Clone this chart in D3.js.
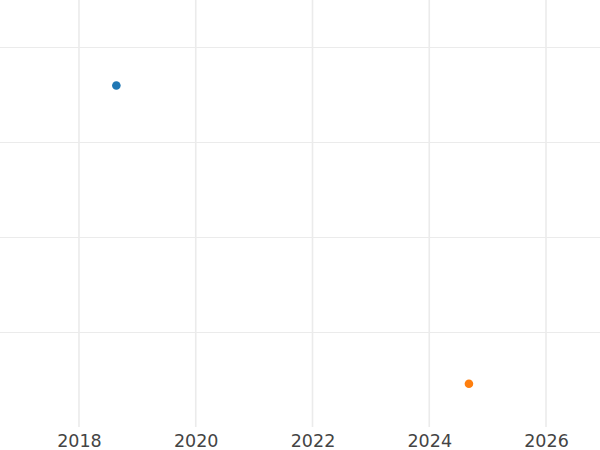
<!DOCTYPE html>
<html><head><meta charset="utf-8">
<script src="https://cdn.jsdelivr.net/npm/d3@7"></script>
<style>body{margin:0;background:#fff}svg{display:block}</style>
</head><body>
<script>
const seriesNames = ["A", "B"];
const xValues = [2018.64, 2024.68];
const yValues = [3.6, 0.46];
const colors = ["#1f77b4", "#ff7f0e"];
const xTicks = [2018, 2020, 2022, 2024, 2026];
const yTicks = [1, 2, 3, 4];

const W = 600, H = 450;
const svg = d3.select("body").append("svg").attr("width", W).attr("height", H);
const x = d3.scaleLinear().domain([2016.647, 2026.925]).range([0, W]);
const y = d3.scaleLinear().domain([0, 4.5]).range([427.5, 0]);

svg.append("g").selectAll("line").data(yTicks).join("line")
  .attr("x1", 0).attr("x2", W)
  .attr("y1", d => Math.floor(y(d)) + 0.5).attr("y2", d => Math.floor(y(d)) + 0.5)
  .attr("stroke", "#ebebeb").attr("stroke-width", 1);

svg.append("g").selectAll("line").data(xTicks).join("line")
  .attr("x1", d => x(d)).attr("x2", d => x(d))
  .attr("y1", 0).attr("y2", 427)
  .attr("stroke", "#ebebeb").attr("stroke-width", 1.6);

const xAxis = d3.axisBottom(x).tickValues(xTicks).tickFormat(d3.format("d")).tickSize(0).tickPadding(0);
const gx = svg.append("g").attr("transform", "translate(0,446.5)").call(xAxis);
gx.select(".domain").remove();
gx.selectAll("text").attr("dy", 0).attr("fill", "#444")
  .style("font-family", "DejaVu Sans").style("font-size", "17.5px");

svg.append("g").selectAll("circle").data(seriesNames).join("circle")
  .attr("cx", (d, i) => x(xValues[i])).attr("cy", (d, i) => y(yValues[i]))
  .attr("r", 4.3).attr("fill", (d, i) => colors[i]);
</script>
</body></html>
